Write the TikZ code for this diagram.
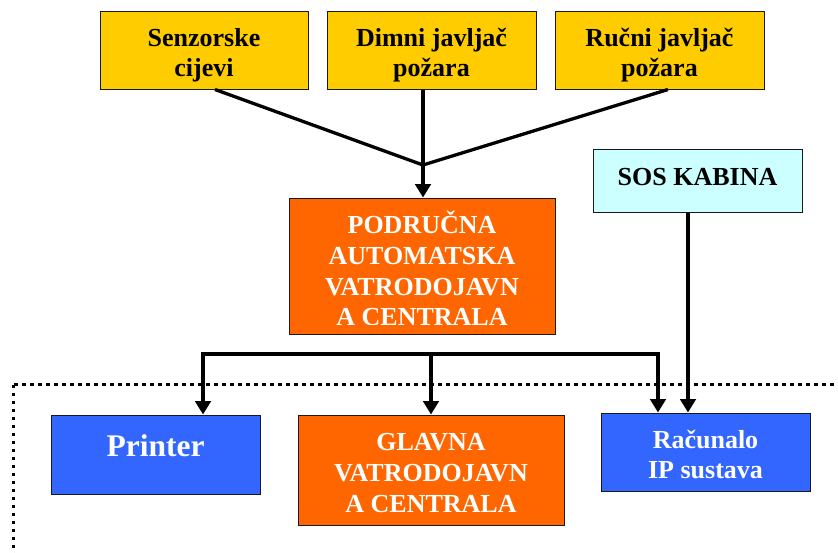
\documentclass[tikz,border=0pt]{standalone}
\usepackage{fontspec}
\setmainfont{Liberation Serif}
\usetikzlibrary{arrows.meta}
\definecolor{gold}{HTML}{FFCC00}
\definecolor{orng}{HTML}{FF6600}
\definecolor{blu}{HTML}{3366FF}
\definecolor{cyn}{HTML}{CCFFFF}
\newcommand\boxlines[3]{\raisebox{0pt}[#1][#2]{\begin{tabular}[t]{@{}c@{}}#3\end{tabular}}}
\begin{document}
\begin{tikzpicture}[x=1pt,y=-1pt,
  base/.style={draw=black!90,line width=1pt,inner sep=0pt,font=\fontsize{26}{30}\selectfont\bfseries},
  yel/.style={base,fill=gold,text=black},
  cyanbox/.style={base,fill=cyn,text=black},
  org/.style={base,fill=orng,text=white},
  bluebox/.style={base,fill=blu,text=white},
  conn/.style={line width=3.3pt,line join=miter},
  arr/.style={conn,-{Triangle[length=13.5pt,width=15.5pt]}},
  arrs/.style={conn,{Triangle[length=13.5pt,width=15.5pt]}-{Triangle[length=13.5pt,width=15.5pt]}},
  dotbox/.style={line width=3.4pt,dash pattern=on 3.4pt off 4.6pt,black}]
\useasboundingbox (0,0) rectangle (838,552);
\begin{scope}
  \clip (0,0) rectangle (838,552);
  \draw[dotbox] (13.5,384.5) rectangle (900,620);
\end{scope}
% top sources
\node[yel,minimum width=208pt,minimum height=78pt] (sen) at (204,50) {\boxlines{0pt}{6.6pt}{Senzorske\\cijevi}};
\node[yel,minimum width=209pt,minimum height=78pt] (dim) at (431.5,50) {\boxlines{0pt}{6.6pt}{Dimni javljač\\požara}};
\node[yel,minimum width=209pt,minimum height=78pt] (ruc) at (659.5,50) {\boxlines{0pt}{6.6pt}{Ručni javljač\\požara}};
\node[cyanbox,minimum width=209pt,minimum height=63pt] (sos) at (697.5,180.5) {\boxlines{9pt}{0pt}{SOS KABINA}};
% local central
\node[org,minimum width=266pt,minimum height=136pt] (podr) at (422,266) {};
\begin{scope}
  \clip (289,198) rectangle (555,324);
  \node[inner sep=0pt,text=white,font=\fontsize{26}{30.8}\selectfont\bfseries] (podrtxt) at (podr.center) {\boxlines{0pt}{65pt}{PODRUČNA\\AUTOMATSKA\\VATRODOJAVN\\A CENTRALA}};
\end{scope}
% bottom row
\node[bluebox,minimum width=209pt,minimum height=79pt,font=\fontsize{31.5}{36}\selectfont\bfseries] (prt) at (155.5,454.5) {\boxlines{4.4pt}{0pt}{Printer}};
\node[org,minimum width=266pt,minimum height=110pt,font=\fontsize{26}{31}\selectfont\bfseries] (glv) at (431,470) {\boxlines{0pt}{40pt}{GLAVNA\\VATRODOJAVN\\A CENTRALA}};
\node[bluebox,minimum width=209pt,minimum height=78pt] (rac) at (705.5,452) {\boxlines{0pt}{7.4pt}{Računalo\\IP sustava}};
% connectors
\coordinate (J) at (423,165);
\draw[conn] ([xshift=11pt]sen.south) -- (J);
\draw[conn] (dim.south -| J) -- (J);
\draw[conn] ([xshift=8.5pt]ruc.south) -- (J);
\draw[arr] (J) -- (J |- podr.north);
\draw[arr] ([xshift=-9.5pt]sos.south) -- ([xshift=-9.5pt]sos.south |- rac.north);
\coordinate (B1) at (203,354);
\coordinate (B3) at (658,354);
\draw[arrs] (B1 |- prt.north) -- (B1) -- (B3) -- (B3 |- rac.north);
\draw[arr] (glv.north |- B1) -- (glv.north);
\end{tikzpicture}
\end{document}
